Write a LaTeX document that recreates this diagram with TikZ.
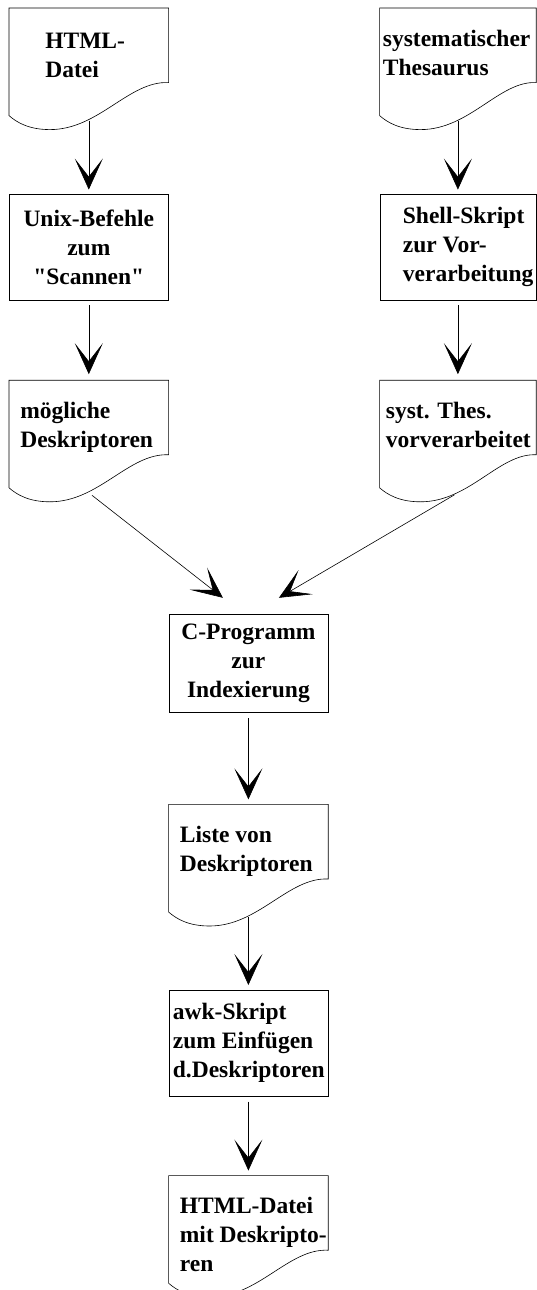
\documentclass[tikz,border=0pt]{standalone}
\usepackage{fontspec}
\setmainfont{Liberation Serif}
\usetikzlibrary{arrows.meta, positioning}

% wavy lower edge of a document node
\newcommand{\docshape}[1]{%
  \draw (#1.north west) -- (#1.north east) -- ([yshift=38pt]#1.south east)
    .. controls ([shift={(120pt,40pt)}]#1.south west) and ([shift={(90pt,-9pt)}]#1.south west) .. ([shift={(41pt,-9pt)}]#1.south west)
    .. controls ([shift={(20pt,-9pt)}]#1.south west) and ([shift={(8pt,-2pt)}]#1.south west) .. ([yshift=5pt]#1.south west)
    -- cycle;}

\begin{document}
\begin{tikzpicture}[
        line width=0.6pt,
        every node/.style={font=\bfseries\fontsize{23.5}{29}\selectfont, inner xsep=0pt},
        doc/.style={rectangle, inner ysep=0pt, text width=159pt, align=flush left, text height=38pt, text depth=74pt, execute at begin node={\hyphenpenalty=10000\leftskip=#1}},
        box/.style={rectangle, draw, text width=159pt, minimum height=106pt, align=center, execute at begin node={\hyphenpenalty=10000}},
        boxl/.style={box, align=flush left, execute at begin node={\leftskip=#1}},
        arrow/.style={-{Stealth[length=31pt, width=28pt, inset=18pt]}}
    ]
        \useasboundingbox (0,0) rectangle (536pt,-1290pt);

        % left column
        \node [doc=36pt, anchor=north west, text height=40pt, text depth=72pt] (html) at (9pt,-8pt) {HTML-\\Datei};
        \node [box, below=73pt of html] (unix) {Unix-Befehle\\zum\\\textquotedbl Scannen\textquotedbl};
        \node [doc=11pt, below=80pt of unix] (cand) {mögliche\\Deskriptoren};

        % right column
        \node [doc=3pt, text width=156pt, right=211pt of html] (thes) {systematischer\\Thesaurus};
        \node [boxl=23pt, text width=156pt, below=73pt of thes] (shell) {Shell-Skript\\zur Vor-\\verarbeitung};
        \node [doc=6pt, text width=156pt, below=80pt of shell] (thesprep) {syst. Thes.\\vorverarbeitet};

        % middle
        \node [box, minimum height=98pt, below right=121pt and 0pt of cand.south east] (cprog) {C-Programm\\zur\\Indexierung};
        \node [doc=11pt, below=92pt of cprog] (list) {Liste von\\Deskriptoren};
        \node [boxl=4pt, below=73pt of list] (awk) {awk-Skript\\zum Einfügen\\d.Deskriptoren};
        \node [doc=11pt, below=79pt of awk] (result) {HTML-Datei\\mit~Deskripto-\\ren};

        \foreach \d in {html, cand, thes, thesprep, list, result}
            \docshape{\d};

        \draw [arrow, shorten >=4pt] (html) -- (unix);
        \draw [arrow, shorten <=5pt, shorten >=6pt] (unix) -- (cand);
        \draw [arrow, shorten >=4pt] (thes) -- (shell);
        \draw [arrow, shorten <=5pt, shorten >=6pt] (shell) -- (thesprep);
        \draw [arrow, shorten <=4pt] (cand.south) -- ([shift={(-25.5pt,16pt)}]cprog.north);
        \draw [arrow, shorten <=4pt] (thesprep.south) -- ([shift={(30.5pt,16pt)}]cprog.north);
        \draw [arrow, shorten <=6pt, shorten >=5pt] (cprog) -- (list);
        \draw [arrow, shorten >=5pt] (list) -- (awk);
        \draw [arrow, shorten <=5pt, shorten >=5pt] (awk) -- (result);
    \end{tikzpicture}
\end{document}
